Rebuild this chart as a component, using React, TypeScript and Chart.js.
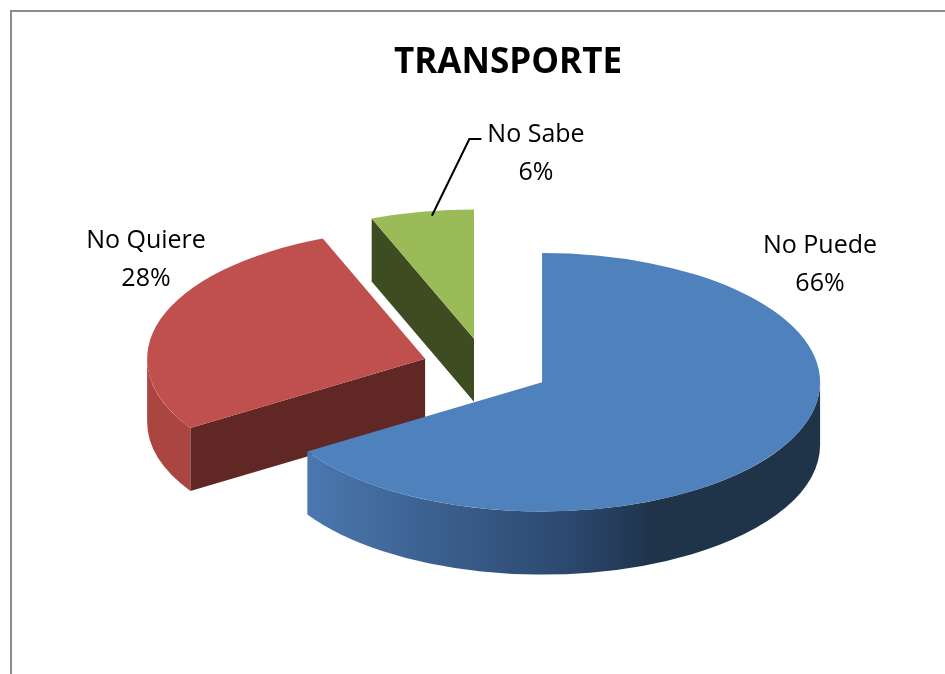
import React, { useEffect, useRef } from 'react';
import { Chart, registerables } from 'chart.js';

Chart.register(...registerables);

// ---- data ----
const categories = ['No Puede', 'No Quiere', 'No Sabe'];
const values = [66, 28, 6];
const chartTitle = 'TRANSPORTE';

// ---- styles ----
const topColors = ['#4F81BD', '#C0504D', '#9BBB59'];
const faceColors = ['#2a4566', '#612725', '#3d4c21'];
const wallColors = ['#2f4d75', '#aa4542', '#5f7a33'];
const FONT = "'Open Sans', 'DejaVu Sans', sans-serif";

// ---- layout (canvas coordinates) ----
const CW = 933;
const CH = 662;
const PIE_X = 474;
const PIE_Y = 356;
const RADIUS = 278;
const TILT = 0.465;
const EXPLODE = 64;
const DEPTH = 63;
const LABEL_FONT = 25;
const LINE_GAP = 38;
const labelAnchors: [number, number][] = [
  [808, 241],
  [134, 236],
  [524, 130],
];
const leaderFor = [false, false, true];

type Geo = {
  i: number;
  arc: any;
  x: number;
  y: number;
  startAngle: number;
  endAngle: number;
  outerRadius: number;
  mid: number;
  sx: number;
  sy: number;
};

function getGeo(chart: any): Geo[] {
  const meta = chart.getDatasetMeta(0);
  return (meta.data as any[]).map((arc, i) => {
    const p = arc.getProps(['x', 'y', 'startAngle', 'endAngle', 'outerRadius'], true);
    const mid = (p.startAngle + p.endAngle) / 2;
    return {
      i,
      arc,
      ...p,
      mid,
      sx: PIE_X + EXPLODE * Math.cos(mid),
      sy: PIE_Y + EXPLODE * TILT * Math.sin(mid),
    };
  });
}

function drawWalls(ctx: CanvasRenderingContext2D, g: Geo) {
  const R = g.outerRadius;
  const rY = R * TILT;
  const pt = (a: number): [number, number] => [g.sx + R * Math.cos(a), g.sy + rY * Math.sin(a)];

  // outer curved wall (front half only)
  for (let k = -1; k <= 2; k++) {
    const lo = Math.max(g.startAngle, 2 * Math.PI * k);
    const hi = Math.min(g.endAngle, 2 * Math.PI * k + Math.PI);
    if (hi <= lo) continue;
    const [x1] = pt(lo);
    const [x2] = pt(hi);
    const left = Math.min(x1, x2);
    const right = Math.max(x1, x2);
    let fill: string | CanvasGradient = wallColors[g.i];
    if (g.i === 0) {
      const grad = ctx.createLinearGradient(left, 0, right, 0);
      grad.addColorStop(0, '#4b78b0');
      grad.addColorStop(0.25, '#3b608e');
      grad.addColorStop(0.5, '#2c4970');
      grad.addColorStop(0.68, '#1f3349');
      grad.addColorStop(1, '#1f3349');
      fill = grad;
    }
    ctx.beginPath();
    ctx.ellipse(g.sx, g.sy, R, rY, 0, lo, hi, false);
    const [ex, ey] = pt(hi);
    ctx.lineTo(ex, ey + DEPTH);
    ctx.ellipse(g.sx, g.sy + DEPTH, R, rY, 0, hi, lo, true);
    ctx.closePath();
    ctx.fillStyle = fill;
    ctx.fill();
  }

  // radial cut faces that face the viewer
  const faces: number[] = [];
  if (Math.cos(g.startAngle) < -1e-3) faces.push(g.startAngle);
  if (Math.cos(g.endAngle) > 1e-3) faces.push(g.endAngle);
  for (const a of faces) {
    const [px, py] = pt(a);
    ctx.beginPath();
    ctx.moveTo(g.sx, g.sy);
    ctx.lineTo(px, py);
    ctx.lineTo(px, py + DEPTH);
    ctx.lineTo(g.sx, g.sy + DEPTH);
    ctx.closePath();
    ctx.fillStyle = faceColors[g.i];
    ctx.fill();
  }
}

const pie3d = {
  id: 'pie3d',
  beforeDatasetsDraw(chart: any) {
    const ctx: CanvasRenderingContext2D = chart.ctx;
    const geo = getGeo(chart);
    const order = [...geo].sort((a, b) => a.sy - b.sy);
    ctx.save();
    for (const g of order) drawWalls(ctx, g);
    for (const g of geo) {
      ctx.save();
      ctx.translate(g.sx, g.sy);
      ctx.scale(1, TILT);
      ctx.translate(-g.x, -g.y);
      g.arc.draw(ctx);
      ctx.restore();
    }
    ctx.restore();
    return false;
  },
  afterDraw(chart: any) {
    const ctx: CanvasRenderingContext2D = chart.ctx;
    const geo = getGeo(chart);
    const total = values.reduce((s, v) => s + v, 0);
    ctx.save();
    ctx.fillStyle = '#000';
    ctx.font = `${LABEL_FONT}px ${FONT}`;
    ctx.textAlign = 'center';
    ctx.textBaseline = 'alphabetic';
    categories.forEach((name, i) => {
      const [cx, by] = labelAnchors[i];
      const pct = `${Math.round((values[i] / total) * 100)}%`;
      ctx.fillText(name, cx, by);
      ctx.fillText(pct, cx, by + LINE_GAP);
      if (leaderFor[i]) {
        const g = geo[i];
        const w = ctx.measureText(name).width;
        const x0 = cx - w / 2 - 6;
        const y0 = by - 3;
        const ex = g.sx + g.outerRadius * Math.cos(g.mid);
        const ey = g.sy + g.outerRadius * TILT * Math.sin(g.mid);
        ctx.beginPath();
        ctx.moveTo(x0, y0);
        ctx.lineTo(x0 - 12, y0);
        ctx.lineTo(ex + 10, ey + 4);
        ctx.strokeStyle = '#000';
        ctx.lineWidth = 2;
        ctx.stroke();
      }
    });
    ctx.restore();
  },
};

export default function App() {
  const ref = useRef<HTMLCanvasElement | null>(null);
  useEffect(() => {
    if (!ref.current) return;
    const chart = new Chart(ref.current, {
      type: 'pie',
      data: {
        labels: categories,
        datasets: [
          {
            data: values,
            backgroundColor: topColors,
            borderWidth: 0,
            offset: 0,
            radius: RADIUS,
          } as any,
        ],
      },
      options: {
        responsive: false,
        animation: false,
        devicePixelRatio: 1,
        events: [],
        layout: { padding: { left: 59, right: 0, top: 0, bottom: 0 } },
        plugins: {
          legend: { display: false },
          tooltip: { enabled: false },
          title: {
            display: true,
            text: chartTitle,
            color: '#000',
            font: { family: FONT, size: 35, weight: 'bold' },
            padding: { top: 30, bottom: 10 },
          },
        },
      } as any,
      plugins: [pie3d],
    });
    return () => chart.destroy();
  }, []);

  return (
    <div
      style={{
        position: 'absolute',
        left: 10,
        top: 10,
        width: 935,
        height: 664,
        boxSizing: 'border-box',
        borderLeft: '2px solid #8c8c8c',
        borderTop: '2px solid #8c8c8c',
        background: '#fff',
      }}
    >
      <canvas ref={ref} width={CW} height={CH} style={{ display: 'block' }} />
    </div>
  );
}
